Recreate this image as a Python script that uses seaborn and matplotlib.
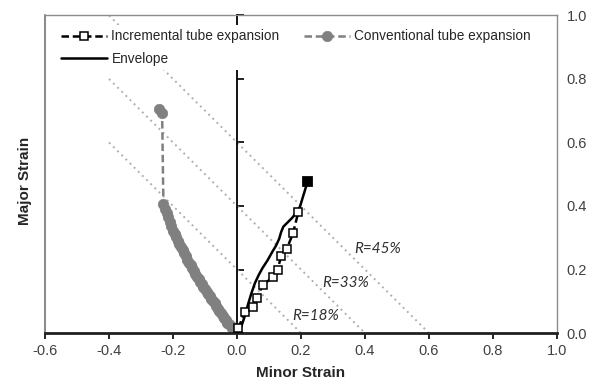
import numpy as np
import pandas as pd
import matplotlib
matplotlib.use('Agg')
import matplotlib.pyplot as plt
import seaborn as sns

#%% Data
# incremental tube expansion (open squares) + final burst point (filled square)
inc_minor   = [0.004, 0.025, 0.049, 0.062, 0.080, 0.114, 0.127, 0.138, 0.155, 0.175, 0.192]
inc_major   = [0.015, 0.067, 0.082, 0.109, 0.151, 0.177, 0.200, 0.242, 0.263, 0.314, 0.382]
burst_minor = [0.219]
burst_major = [0.478]

# envelope of the incremental expansion
env_minor = [0.007, 0.015, 0.025, 0.035, 0.045, 0.056, 0.068, 0.080, 0.095, 0.110, 0.122,
             0.132, 0.138, 0.145, 0.158, 0.172, 0.186, 0.197, 0.205, 0.212, 0.220]
env_major = [0.000, 0.025, 0.055, 0.092, 0.125, 0.157, 0.183, 0.205, 0.228, 0.255, 0.275,
             0.297, 0.318, 0.335, 0.348, 0.362, 0.380, 0.398, 0.425, 0.448, 0.475]

# conventional tube expansion (grey circles)
conv_minor = [0.000, -0.005, -0.010, -0.015, -0.020, -0.025, -0.030, -0.035, -0.040, -0.045,
              -0.050, -0.055, -0.060, -0.065, -0.070, -0.075, -0.080, -0.085, -0.090, -0.095,
              -0.100, -0.105, -0.110, -0.115, -0.120, -0.125, -0.130, -0.135, -0.140, -0.145,
              -0.150, -0.155, -0.160, -0.165, -0.170, -0.175, -0.180, -0.185, -0.190, -0.195,
              -0.200, -0.205, -0.210, -0.215, -0.220, -0.225, -0.230, -0.234, -0.245]
conv_major = [0.000, 0.005, 0.011, 0.016, 0.022, 0.028, 0.033, 0.040, 0.047, 0.054,
              0.062, 0.069, 0.077, 0.085, 0.093, 0.100, 0.108, 0.115, 0.123, 0.130,
              0.138, 0.145, 0.153, 0.160, 0.169, 0.177, 0.186, 0.195, 0.204, 0.213,
              0.222, 0.231, 0.241, 0.251, 0.261, 0.271, 0.281, 0.291, 0.301, 0.311,
              0.322, 0.336, 0.350, 0.364, 0.378, 0.392, 0.406, 0.693, 0.705]

# iso-thinning lines (minor + major = level) and their labels
r_levels  = [0.2, 0.4, 0.6]
r_start   = -0.4
r_labels  = ['R=18%', 'R=33%', 'R=45%']
r_label_x = [0.247, 0.340, 0.440]
r_label_y = [0.054, 0.157, 0.265]

xticks = [-0.6, -0.4, -0.2, 0.0, 0.2, 0.4, 0.6, 0.8, 1.0]
yticks = [0.0, 0.2, 0.4, 0.6, 0.8, 1.0]

#%% Plot
sns.set_style('white')
plt.rcParams['font.family'] = ['Liberation Sans', 'DejaVu Sans']
plt.rcParams['axes.unicode_minus'] = False

fig = plt.figure(figsize=(5.98, 3.85), dpi=100)
ax = fig.add_axes([0.0753, 0.135, 0.856, 0.825])

clr_grey = '#808080'
for lev in r_levels:
    ax.plot([r_start, lev], [lev - r_start, 0], color='#b0b0b0', lw=1.4,
            linestyle=(0, (1, 2)), zorder=1)
for lab, tx, ty in zip(r_labels, r_label_x, r_label_y):
    ax.text(tx, ty, lab, ha='center', va='center', fontsize=11, style='italic',
            family=['Lato', 'DejaVu Sans'], color='#303030')

sns.lineplot(x=conv_minor, y=conv_major, sort=False, ax=ax, color=clr_grey, lw=1.8,
             linestyle=(0, (3, 1.5)), marker='o', markersize=7.5, markeredgecolor=clr_grey,
             markerfacecolor=clr_grey, markeredgewidth=0.5,
             label='Conventional tube expansion', zorder=2)
sns.lineplot(x=env_minor, y=env_major, sort=False, ax=ax, color='k', lw=1.8,
             label='Envelope', zorder=3)
sns.lineplot(x=inc_minor, y=inc_major, sort=False, ax=ax, color='k', lw=1.8,
             linestyle=(0, (3, 1.5)), marker='s', markersize=5.5, markeredgecolor='k',
             markerfacecolor='white', markeredgewidth=1.1,
             label='Incremental tube expansion', zorder=4)
sns.scatterplot(x=burst_minor, y=burst_major, ax=ax, marker='s', s=50, color='k',
                edgecolor='k', zorder=5)

ax.set_xlim(-0.6, 1.0)
ax.set_ylim(0, 1.0)
ax.set_xticks(xticks)
ax.set_xticklabels(['%.1f' % v for v in xticks])
ax.set_yticks(yticks)
ax.set_yticklabels(['%.1f' % v for v in yticks])

# spines: vertical axis through minor=0, grey plot frame
ax.spines['left'].set_position(('data', 0))
ax.spines['left'].set_color('k')
ax.spines['left'].set_linewidth(1.3)
ax.spines['bottom'].set_color('#202020')
ax.spines['bottom'].set_linewidth(2)
for s in ['top', 'right']:
    ax.spines[s].set_visible(True)
    ax.spines[s].set_color('#8c8c8c')
    ax.spines[s].set_linewidth(1)
ax.plot([0, 0], [0, 1], transform=ax.transAxes, color='#8c8c8c', lw=1.5, clip_on=False)

ax.tick_params(axis='x', bottom=True, direction='out', length=4, width=1.2, color='k',
               labelsize=10.5, labelcolor='#404040', pad=4)
ax.tick_params(axis='y', left=True, right=False, labelleft=False, labelright=True,
               direction='in', length=5, width=1.2, color='k',
               labelsize=10.5, labelcolor='#404040', pad=7)

ax.set_xlabel('Minor Strain', fontsize=11, fontweight='bold', labelpad=6)
ax.text(-0.039, 0.48, 'Major Strain', transform=ax.transAxes, rotation=90,
        ha='center', va='center', fontsize=11, fontweight='bold')

handles, labels = ax.get_legend_handles_labels()
order = [labels.index('Incremental tube expansion'), labels.index('Envelope'),
         labels.index('Conventional tube expansion')]
leg = ax.legend([handles[i] for i in order], [labels[i] for i in order], ncol=2,
                loc='upper left', bbox_to_anchor=(0.01, 0.99), fontsize=9.8,
                handlelength=3.4, handletextpad=0.3, columnspacing=1.8,
                labelspacing=0.6, borderpad=0.3, numpoints=1,
                frameon=True, framealpha=1, facecolor='white', edgecolor='none',
                fancybox=False)
leg.set_zorder(6)

fig.savefig('out.png', dpi=100)
